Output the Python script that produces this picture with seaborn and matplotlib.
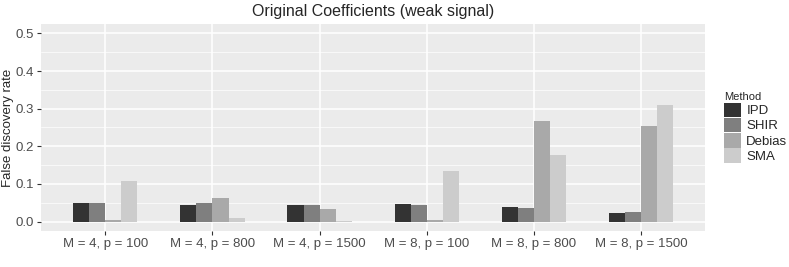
import pandas as pd
import matplotlib.pyplot as plt
import seaborn as sns
from matplotlib.ticker import MultipleLocator

# Values
settings = ['M = 4, p = 100', 'M = 4, p = 800', 'M = 4, p = 1500',
            'M = 8, p = 100', 'M = 8, p = 800', 'M = 8, p = 1500']
methods = ['IPD', 'SHIR', 'Debias', 'SMA']
ipd = [0.049, 0.044, 0.044, 0.047, 0.038, 0.024]
shir = [0.049, 0.048, 0.045, 0.043, 0.035, 0.026]
debias = [0.003, 0.063, 0.034, 0.003, 0.268, 0.253]
sma = [0.108, 0.010, 0.002, 0.134, 0.177, 0.309]
colors = ['#333333', '#7f7f7f', '#a9a9a9', '#cccccc']

rows = []
for m, vals in zip(methods, [ipd, shir, debias, sma]):
    for s, v in zip(settings, vals):
        rows.append({'Setting': s, 'Method': m, 'FDR': v})
df = pd.DataFrame(rows)

sns.set_style('darkgrid', {'axes.facecolor': '#ebebeb', 'grid.color': 'white'})
plt.rcParams['font.family'] = ['Liberation Sans', 'DejaVu Sans']

fig = plt.figure(figsize=(7.89, 2.67), dpi=100)
ax = fig.add_axes([0.052, 0.135, 0.842, 0.775])

sns.barplot(data=df, x='Setting', y='FDR', hue='Method', order=settings,
            hue_order=methods, palette=colors, width=0.6, gap=0,
            saturation=1, linewidth=0, ax=ax)

ax.set_ylim(-0.025, 0.525)
ax.set_xlim(-0.6, 5.6)
ax.yaxis.set_minor_locator(MultipleLocator(0.05))
ax.grid(which='major', color='white', linewidth=1.1)
ax.grid(which='minor', axis='y', color='white', linewidth=0.5)
ax.set_axisbelow(True)
ax.set_yticks([0, 0.1, 0.2, 0.3, 0.4, 0.5])
ax.set_yticklabels(['0.0', '0.1', '0.2', '0.3', '0.4', '0.5'])
ax.tick_params(axis='both', which='major', length=3, width=0.8, color='#333333',
               labelcolor='#4d4d4d', labelsize=9.5, pad=2, bottom=True, left=True)
ax.tick_params(axis='y', which='minor', length=0)
ax.set_xlabel('')
ax.set_ylabel('False discovery rate', fontsize=9.5, labelpad=1)
for sp in ax.spines.values():
    sp.set_visible(False)

ax.set_title('Original Coefficients (weak signal)', fontsize=11.5, pad=6)

handles, labels = ax.get_legend_handles_labels()
ax.legend(handles, labels, title='Method', loc='center left',
          bbox_to_anchor=(1.01, 0.5), frameon=False, fontsize=9.5,
          title_fontsize=8, handlelength=1.3, handleheight=1.3,
          handletextpad=0.4, labelspacing=0.05, alignment='left')

fig.savefig('out.png', dpi=100)
